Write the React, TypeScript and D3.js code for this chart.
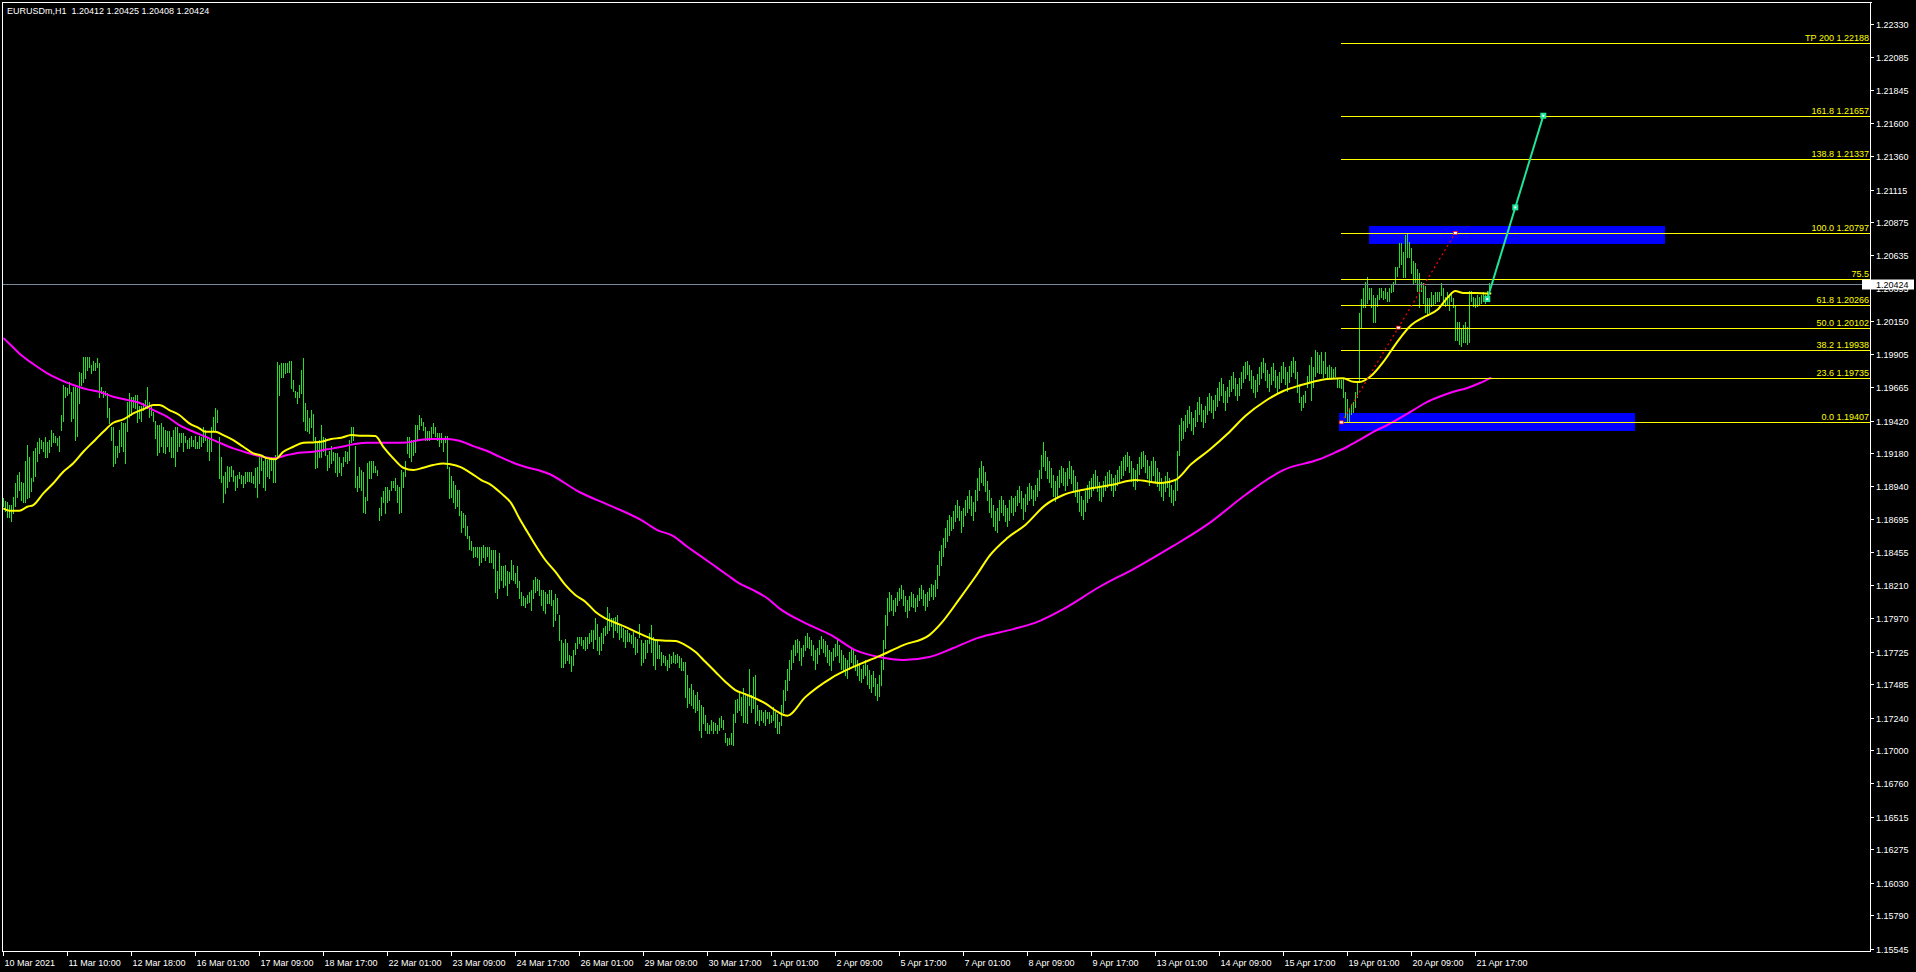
import React from "react";
import * as d3 from "d3";

const TITLE = "EURUSDm,H1  1.20412 1.20425 1.20408 1.20424";
const LAST_PRICE = 1.20424;
const LAST_PRICE_LABEL = "1.20424";

const timeLabels = [
  "10 Mar 2021", "11 Mar 10:00", "12 Mar 18:00", "16 Mar 01:00", "17 Mar 09:00", "18 Mar 17:00",
  "22 Mar 01:00", "23 Mar 09:00", "24 Mar 17:00", "26 Mar 01:00", "29 Mar 09:00", "30 Mar 17:00",
  "1 Apr 01:00", "2 Apr 09:00", "5 Apr 17:00", "7 Apr 01:00", "8 Apr 09:00", "9 Apr 17:00",
  "13 Apr 01:00", "14 Apr 09:00", "15 Apr 17:00", "19 Apr 01:00", "20 Apr 09:00", "21 Apr 17:00",
];
const BARS_PER_TIME_LABEL = 32;

const priceTicks = [
  1.2233, 1.22085, 1.21845, 1.216, 1.2136, 1.21115, 1.20875, 1.20635, 1.20395, 1.2015,
  1.19905, 1.19665, 1.1942, 1.1918, 1.1894, 1.18695, 1.18455, 1.1821, 1.1797, 1.17725,
  1.17485, 1.1724, 1.17, 1.1676, 1.16515, 1.16275, 1.1603, 1.1579, 1.15545,
];

// H1 bar highs / lows (one per hourly bar, oldest first)
const highs = [
  1.1885,1.1883,1.1882,1.1880,1.1880,1.1886,1.1896,1.1902,1.1904,1.1897,
  1.1896,1.1912,1.1924,1.1915,1.1900,1.1920,1.1922,1.1926,1.1929,1.1928,
  1.1926,1.1930,1.1926,1.1928,1.1935,1.1933,1.1931,1.1929,1.1931,1.1946,
  1.1968,1.1967,1.1966,1.1970,1.1963,1.1967,1.1967,1.1966,1.1978,1.1977,
  1.1989,1.1989,1.1989,1.1989,1.1983,1.1986,1.1984,1.1988,1.1984,1.1967,
  1.1964,1.1964,1.1962,1.1951,1.1937,1.1937,1.1923,1.1923,1.1935,1.1941,
  1.1940,1.1940,1.1956,1.1962,1.1959,1.1959,1.1961,1.1961,1.1953,1.1953,
  1.1955,1.1957,1.1967,1.1956,1.1953,1.1948,1.1942,1.1939,1.1939,1.1940,
  1.1937,1.1935,1.1934,1.1934,1.1930,1.1935,1.1937,1.1937,1.1933,1.1933,
  1.1933,1.1931,1.1928,1.1929,1.1931,1.1928,1.1931,1.1926,1.1931,1.1930,
  1.1937,1.1935,1.1930,1.1929,1.1937,1.1945,1.1951,1.1950,1.1930,1.1915,
  1.1901,1.1904,1.1909,1.1908,1.1909,1.1906,1.1901,1.1902,1.1904,1.1902,
  1.1901,1.1904,1.1904,1.1904,1.1904,1.1901,1.1907,1.1908,1.1915,
  1.1917,1.1912,1.1915,1.1913,1.1915,1.1915,1.1913,1.1917,1.1985,1.1983,
  1.1984,1.1984,1.1984,1.1984,1.1986,1.1986,1.1972,1.1964,1.1963,1.1968,
  1.1979,1.1988,1.1955,1.1950,1.1944,1.1950,1.1947,1.1930,1.1926,1.1928,
  1.1939,1.1930,1.1929,1.1917,1.1920,1.1923,1.1919,1.1918,1.1918,1.1915,
  1.1911,1.1915,1.1920,1.1919,1.1928,1.1937,1.1937,1.1923,1.1901,1.1908,
  1.1906,1.1904,1.1886,1.1911,1.1912,1.1912,1.1912,1.1909,1.1906,1.1878,
  1.1886,1.1890,1.1893,1.1893,1.1891,1.1898,1.1898,1.1900,1.1895,1.1893,
  1.1906,1.1904,1.1912,1.1930,1.1930,1.1928,1.1928,1.1939,1.1939,1.1946,
  1.1944,1.1941,1.1937,1.1934,1.1934,1.1937,1.1940,1.1937,1.1933,1.1933,
  1.1933,1.1928,1.1931,1.1931,1.1908,1.1901,1.1898,1.1895,1.1891,1.1891,
  1.1876,1.1874,1.1873,1.1865,1.1857,1.1854,1.1849,1.1849,1.1849,1.1849,
  1.1849,1.1851,1.1849,1.1849,1.1849,1.1847,1.1847,1.1847,1.1832,1.1845,
  1.1835,1.1835,1.1836,1.1832,1.1831,1.1840,1.1836,1.1830,1.1835,1.1824,
  1.1816,1.1813,1.1812,1.1814,1.1816,1.1818,1.1825,1.1827,1.1826,1.1825,
  1.1818,1.1818,1.1816,1.1815,1.1818,1.1818,1.1810,1.1815,1.1812,1.1799,
  1.1781,1.1779,1.1782,1.1779,1.1770,1.1769,1.1774,1.1779,1.1783,1.1783,
  1.1783,1.1781,1.1783,1.1783,1.1786,1.1788,1.1788,1.1797,1.1793,1.1783,
  1.1786,1.1790,1.1791,1.1805,1.1801,1.1797,1.1797,1.1798,1.1799,1.1792,
  1.1791,1.1790,1.1788,1.1788,1.1786,1.1785,1.1787,1.1783,1.1782,1.1793,
  1.1781,1.1779,1.1781,1.1781,1.1786,1.1792,1.1783,1.1782,1.1781,1.1777,
  1.1772,1.1770,1.1769,1.1766,1.1771,1.1769,1.1772,1.1770,1.1771,1.1769,
  1.1768,1.1765,1.1765,1.1755,1.1746,1.1749,1.1744,1.1741,1.1743,1.1737,
  1.1733,1.1732,1.1726,1.1720,1.1719,1.1722,1.1721,1.1720,1.1719,1.1724,
  1.1725,1.1722,1.1713,1.1709,1.1709,1.1713,1.1727,1.1737,1.1738,1.1743,
  1.1739,1.1746,1.1742,1.1741,1.1760,1.1741,1.1754,1.1755,1.1733,1.1730,
  1.1730,1.1728,1.1730,1.1728,1.1728,1.1726,1.1732,1.1728,1.1727,1.1721,
  1.1733,1.1744,1.1752,1.1760,1.1766,1.1774,1.1777,1.1781,1.1782,1.1780,
  1.1775,1.1777,1.1784,1.1786,1.1783,1.1781,1.1777,1.1774,1.1775,1.1781,
  1.1784,1.1782,1.1780,1.1777,1.1774,1.1772,1.1775,1.1778,1.1781,1.1777,
  1.1774,1.1770,1.1768,1.1766,1.1772,1.1775,1.1774,1.1770,1.1766,1.1764,
  1.1760,1.1763,1.1766,1.1763,1.1759,1.1755,1.1758,1.1753,1.1749,1.1755,
  1.1766,1.1781,1.1799,1.1812,1.1816,1.1814,1.1810,1.1812,1.1816,1.1819,
  1.1821,1.1818,1.1813,1.1810,1.1813,1.1816,1.1815,1.1812,1.1814,1.1819,
  1.1821,1.1818,1.1815,1.1816,1.1819,1.1822,1.1821,1.1825,1.1836,1.1846,
  1.1851,1.1856,1.1863,1.1869,1.1873,1.1871,1.1876,1.1880,1.1884,1.1879,
  1.1876,1.1878,1.1884,1.1887,1.1891,1.1887,1.1882,1.1891,1.1900,1.1907,
  1.1912,1.1909,1.1904,1.1898,1.1891,1.1885,1.1880,1.1876,1.1878,1.1884,
  1.1887,1.1884,1.1880,1.1878,1.1884,1.1887,1.1885,1.1887,1.1891,1.1894,
  1.1890,1.1885,1.1888,1.1893,1.1896,1.1894,1.1891,1.1895,1.1900,1.1906,
  1.1917,1.1926,1.1920,1.1915,1.1912,1.1907,1.1902,1.1898,1.1901,1.1906,
  1.1909,1.1907,1.1904,1.1907,1.1912,1.1909,1.1906,1.1901,1.1897,1.1891,
  1.1887,1.1884,1.1890,1.1895,1.1898,1.1900,1.1903,1.1906,1.1901,1.1897,
  1.1894,1.1898,1.1901,1.1904,1.1906,1.1903,1.1900,1.1902,1.1906,1.1909,
  1.1912,1.1915,1.1917,1.1919,1.1916,1.1912,1.1907,1.1906,1.1910,1.1915,
  1.1919,1.1920,1.1917,1.1913,1.1909,1.1912,1.1915,1.1912,1.1907,1.1904,
  1.1900,1.1897,1.1901,1.1904,1.1900,1.1895,1.1891,1.1898,1.1920,1.1939,
  1.1944,1.1942,1.1946,1.1950,1.1953,1.1948,1.1944,1.1950,1.1956,1.1959,
  1.1954,1.1950,1.1953,1.1959,1.1962,1.1960,1.1957,1.1961,1.1966,1.1970,
  1.1973,1.1969,1.1964,1.1967,1.1972,1.1975,1.1978,1.1973,1.1969,1.1973,
  1.1978,1.1982,1.1985,1.1986,1.1983,1.1979,1.1975,1.1972,1.1976,1.1981,
  1.1985,1.1988,1.1984,1.1979,1.1976,1.1981,1.1984,1.1979,1.1975,1.1978,
  1.1982,1.1985,1.1981,1.1978,1.1982,1.1986,1.1989,1.1986,1.1978,1.1968,
  1.1959,1.1961,1.1964,1.1975,1.1983,1.1989,1.1981,1.1994,1.1992,1.1990,
  1.1992,1.1986,1.1992,1.1981,1.1983,
  1.1981,1.1980,1.1981,1.1973,1.1972,1.1972,1.1973,1.1963,1.1958,1.1951,
  1.1954,1.1956,1.1963,1.1970,1.2021,1.2031,1.2039,1.2044,1.2047,1.2039,
  1.2039,1.2034,1.2032,1.2034,1.2039,1.2039,1.2037,1.2039,1.2036,1.2039,
  1.2042,1.2044,1.2055,1.2055,1.2072,1.2072,1.2066,1.2078,1.20797,1.2073,
  1.2069,1.2059,1.2058,1.2053,1.2050,1.2044,1.2043,1.2041,1.2032,1.2032,
  1.2036,1.2034,1.2036,1.2036,1.2036,1.2043,1.2039,1.2033,1.2036,1.2034,
  1.2036,1.2032,1.2027,1.2014,1.2014,1.2010,1.2012,1.2014,1.2011,1.2037,
  1.2037,1.2033,1.2032,1.2034,1.2033,1.2034,1.2036,1.2034,1.2037,1.2043,1.20425,
];

const lows = [
  1.1879,1.1876,1.1871,1.1871,1.1868,1.1874,1.1879,1.1886,1.1891,1.1884,
  1.1882,1.1882,1.1885,1.1886,1.1890,1.1898,1.1901,1.1912,1.1918,1.1922,
  1.1920,1.1915,1.1915,1.1919,1.1923,1.1926,1.1926,1.1924,1.1920,1.1935,
  1.1942,1.1959,1.1961,1.1962,1.1942,1.1944,1.1928,1.1931,1.1955,1.1968,
  1.1970,1.1973,1.1979,1.1981,1.1977,1.1979,1.1979,1.1981,1.1959,1.1962,
  1.1959,1.1961,1.1945,1.1940,1.1928,1.1909,1.1911,1.1915,1.1919,1.1923,
  1.1920,1.1911,1.1934,1.1945,1.1946,1.1952,1.1951,1.1941,1.1944,1.1942,
  1.1950,1.1952,1.1951,1.1945,1.1946,1.1942,1.1929,1.1917,1.1919,1.1923,
  1.1919,1.1918,1.1923,1.1920,1.1915,1.1915,1.1909,1.1920,1.1923,1.1926,
  1.1920,1.1926,1.1922,1.1922,1.1923,1.1923,1.1922,1.1922,1.1922,1.1923,
  1.1926,1.1928,1.1920,1.1913,1.1920,1.1934,1.1935,1.1941,1.1900,1.1897,
  1.1882,1.1889,1.1893,1.1898,1.1901,1.1898,1.1891,1.1893,1.1900,1.1896,
  1.1893,1.1896,1.1898,1.1898,1.1897,1.1896,1.1893,1.1886,1.1896,
  1.1906,1.1893,1.1891,1.1901,1.1900,1.1906,1.1897,1.1897,1.1915,1.1961,
  1.1974,1.1974,1.1977,1.1978,1.1978,1.1966,1.1964,1.1959,1.1955,1.1959,
  1.1962,1.1942,1.1935,1.1934,1.1933,1.1937,1.1928,1.1907,1.1908,1.1915,
  1.1915,1.1920,1.1917,1.1906,1.1908,1.1911,1.1913,1.1904,1.1901,1.1904,
  1.1902,1.1909,1.1912,1.1911,1.1913,1.1926,1.1928,1.1893,1.1890,1.1893,
  1.1891,1.1875,1.1874,1.1884,1.1900,1.1900,1.1904,1.1904,1.1902,1.1869,
  1.1873,1.1882,1.1874,1.1882,1.1884,1.1891,1.1893,1.1891,1.1882,1.1874,
  1.1875,1.1893,1.1901,1.1918,1.1915,1.1912,1.1917,1.1919,1.1928,1.1936,
  1.1939,1.1935,1.1928,1.1928,1.1928,1.1930,1.1933,1.1931,1.1928,1.1923,
  1.1926,1.1920,1.1926,1.1907,1.1885,1.1886,1.1882,1.1878,1.1879,1.1873,
  1.1860,1.1864,1.1858,1.1856,1.1848,1.1847,1.1842,1.1843,1.1842,1.1836,
  1.1838,1.1842,1.1840,1.1843,1.1838,1.1838,1.1834,1.1816,1.1812,1.1819,
  1.1825,1.1820,1.1821,1.1814,1.1823,1.1826,1.1825,1.1823,1.1820,1.1812,
  1.1807,1.1807,1.1805,1.1808,1.1809,1.1803,1.1812,1.1816,1.1818,1.1814,
  1.1807,1.1803,1.1801,1.1808,1.1808,1.1807,1.1791,1.1796,1.1801,1.1781,
  1.1761,1.1761,1.1764,1.1766,1.1764,1.1758,1.1763,1.1771,1.1775,1.1779,
  1.1777,1.1775,1.1774,1.1775,1.1779,1.1780,1.1775,1.1782,1.1774,1.1771,
  1.1774,1.1779,1.1785,1.1786,1.1788,1.1791,1.1783,1.1788,1.1787,1.1782,
  1.1783,1.1780,1.1776,1.1780,1.1780,1.1779,1.1776,1.1771,1.1772,1.1783,
  1.1763,1.1765,1.1768,1.1772,1.1779,1.1772,1.1763,1.1760,1.1768,1.1768,
  1.1763,1.1765,1.1763,1.1759,1.1761,1.1764,1.1765,1.1764,1.1765,1.1761,
  1.1759,1.1759,1.1739,1.1732,1.1735,1.1733,1.1731,1.1728,1.1730,1.1715,
  1.1710,1.1720,1.1715,1.1713,1.1713,1.1715,1.1713,1.1715,1.1713,1.1715,
  1.1717,1.1716,1.1706,1.1704,1.1705,1.1705,1.1704,1.1721,1.1728,1.1730,
  1.1726,1.1721,1.1721,1.1720,1.1733,1.1728,1.1731,1.1720,1.1722,1.1719,
  1.1722,1.1721,1.1719,1.1724,1.1720,1.1721,1.1722,1.1717,1.1713,1.1713,
  1.1719,1.1728,1.1737,1.1744,1.1752,1.1760,1.1765,1.1770,1.1772,1.1766,
  1.1763,1.1769,1.1774,1.1776,1.1775,1.1770,1.1766,1.1760,1.1764,1.1771,
  1.1775,1.1772,1.1769,1.1765,1.1763,1.1759,1.1766,1.1769,1.1770,1.1765,
  1.1760,1.1758,1.1755,1.1753,1.1760,1.1765,1.1763,1.1759,1.1755,1.1752,
  1.1750,1.1753,1.1755,1.1749,1.1746,1.1743,1.1747,1.1741,1.1737,1.1740,
  1.1748,1.1760,1.1775,1.1792,1.1802,1.1803,1.1799,1.1802,1.1807,1.1810,
  1.1812,1.1807,1.1802,1.1798,1.1803,1.1806,1.1805,1.1802,1.1806,1.1810,
  1.1812,1.1807,1.1803,1.1806,1.1810,1.1813,1.1811,1.1813,1.1819,1.1829,
  1.1836,1.1843,1.1849,1.1854,1.1858,1.1862,1.1863,1.1868,1.1871,1.1869,
  1.1860,1.1865,1.1873,1.1875,1.1878,1.1873,1.1869,1.1876,1.1884,1.1891,
  1.1897,1.1895,1.1890,1.1884,1.1875,1.1871,1.1865,1.1862,1.1860,1.1869,
  1.1875,1.1873,1.1868,1.1865,1.1869,1.1875,1.1873,1.1876,1.1880,1.1882,
  1.1878,1.1870,1.1876,1.1881,1.1884,1.1885,1.1880,1.1884,1.1887,1.1891,
  1.1900,1.1909,1.1906,1.1900,1.1897,1.1893,1.1887,1.1883,1.1887,1.1893,
  1.1897,1.1895,1.1891,1.1895,1.1900,1.1896,1.1891,1.1887,1.1882,1.1876,
  1.1873,1.1870,1.1876,1.1882,1.1885,1.1887,1.1891,1.1894,1.1890,1.1884,
  1.1883,1.1887,1.1891,1.1893,1.1895,1.1891,1.1887,1.1891,1.1895,1.1898,
  1.1900,1.1902,1.1906,1.1909,1.1904,1.1898,1.1894,1.1892,1.1898,1.1903,
  1.1907,1.1909,1.1904,1.1900,1.1895,1.1898,1.1902,1.1898,1.1894,1.1891,
  1.1887,1.1884,1.1890,1.1893,1.1887,1.1882,1.1880,1.1884,1.1891,1.1917,
  1.1928,1.1929,1.1934,1.1937,1.1940,1.1935,1.1932,1.1938,1.1942,1.1947,
  1.1942,1.1937,1.1941,1.1947,1.1950,1.1948,1.1944,1.1950,1.1953,1.1957,
  1.1961,1.1956,1.1950,1.1956,1.1960,1.1964,1.1966,1.1961,1.1957,1.1961,
  1.1966,1.1970,1.1973,1.1976,1.1972,1.1966,1.1963,1.1959,1.1964,1.1969,
  1.1973,1.1978,1.1972,1.1967,1.1964,1.1969,1.1972,1.1967,1.1963,1.1966,
  1.1970,1.1973,1.1969,1.1964,1.1970,1.1975,1.1978,1.1973,1.1963,1.1956,
  1.1950,1.1952,1.1956,1.1967,1.1970,1.1957,1.1967,1.1975,1.1978,1.1977,
  1.1977,1.1974,1.1977,1.1974,1.1974,
  1.1973,1.1974,1.1975,1.1967,1.1967,1.1966,1.1959,1.1945,1.19407,1.1942,
  1.1947,1.1948,1.1952,1.1959,1.1972,1.2011,1.2025,1.2025,1.2028,1.2031,
  1.2025,1.2014,1.2014,1.2026,1.2031,1.2033,1.2031,1.2032,1.2030,1.2030,
  1.2036,1.2037,1.2042,1.2048,1.2055,1.2057,1.2047,1.2047,1.2062,1.2062,
  1.2050,1.2043,1.2044,1.2037,1.2025,1.2037,1.2028,1.2022,1.2020,1.2022,
  1.2026,1.2027,1.2028,1.2030,1.2030,1.2034,1.2027,1.2026,1.2027,1.2023,
  1.2030,1.2025,1.2001,1.2001,1.1998,1.1997,1.2000,1.2000,1.1998,1.2000,
  1.2030,1.2026,1.2025,1.2026,1.2027,1.2028,1.2030,1.2028,1.2032,1.2036,1.20408,
];

// Moving averages sampled at [bar index, value]
const yellowMA: [number, number][] = [
  [0,1.18776],[3,1.18759],[8,1.18759],[12,1.18788],[15,1.188],[20,1.18886],[25,1.1896],[30,1.19045],
  [35,1.19107],[40,1.19191],[45,1.19265],[50,1.19338],[55,1.19404],[60,1.19429],[65,1.19473],[70,1.19503],
  [75,1.19534],[78,1.19534],[83,1.19497],[88,1.19461],[93,1.194],[98,1.19363],[101,1.19338],[106,1.19338],
  [110,1.19314],[115,1.19277],[120,1.19228],[125,1.1918],[129,1.19164],[132,1.19143],[136,1.19136],[140,1.19191],
  [145,1.19228],[150,1.19258],[155,1.1926],[159,1.19265],[164,1.19285],[169,1.19294],[174,1.19314],[179,1.19309],
  [186,1.19307],[190,1.19228],[195,1.19143],[200,1.19074],[205,1.19057],[210,1.19074],[215,1.19094],[220,1.19106],
  [223,1.19101],[229,1.19077],[234,1.19033],[239,1.18984],[244,1.18947],[249,1.18886],[254,1.18813],[258,1.18703],
  [262,1.18604],[266,1.18507],[271,1.18397],[276,1.18311],[281,1.18214],[286,1.1814],[291,1.18091],[296,1.18018],
  [301,1.17969],[306,1.17937],[311,1.17907],[316,1.17871],[321,1.17839],[326,1.1781],[331,1.17805],[336,1.17802],
  [341,1.17773],[346,1.17724],[351,1.1765],[356,1.17577],[361,1.17504],[366,1.17443],[371,1.17413],[376,1.17382],
  [381,1.17345],[387,1.17284],[392,1.17255],[401,1.17391],[414,1.17531],[426,1.17619],[438,1.17692],[450,1.17773],
  [463,1.17846],[469,1.17934],[478,1.1811],[487,1.18294],[493,1.18426],[502,1.18558],[511,1.18654],[521,1.188],
  [530,1.18874],[542,1.18918],[554,1.18947],[566,1.18984],[579,1.18962],[586,1.18984],[594,1.19101],[603,1.19204],
  [612,1.19321],[621,1.19454],[631,1.19564],[640,1.19637],[649,1.19681],[655,1.19705],[662,1.19725],[670,1.1973],
  [675,1.19705],[678,1.19703],[684,1.19749],[690,1.1985],[697,1.19998],[704,1.20121],[711,1.20184],[717,1.20233],
  [722,1.2032],[726,1.2037],[730,1.20357],[736,1.20357],[744,1.20352],
];

const magentaMA: [number, number][] = [
  [0,1.20026],[2,1.19999],[8,1.19913],[15,1.19835],[22,1.19767],[28,1.19723],[35,1.19681],[42,1.19649],
  [48,1.19632],[55,1.19595],[62,1.19571],[68,1.19551],[75,1.19497],[82,1.19448],[88,1.19387],[95,1.19338],
  [102,1.19297],[108,1.19258],[115,1.19216],[122,1.19184],[128,1.1916],[135,1.19143],[142,1.19167],[148,1.19184],
  [155,1.19191],[162,1.19209],[168,1.19224],[175,1.19246],[182,1.19258],[188,1.19258],[195,1.19258],[202,1.1926],
  [208,1.19277],[215,1.19285],[222,1.19285],[228,1.19272],[235,1.19233],[242,1.19197],[248,1.19155],[255,1.19111],
  [258,1.19094],[273,1.19028],[288,1.18896],[304,1.18793],[319,1.1869],[327,1.18617],[335,1.18573],[342,1.18494],
  [348,1.18433],[355,1.1836],[362,1.18287],[368,1.18226],[375,1.18176],[382,1.18116],[388,1.18042],[401,1.17934],
  [414,1.17846],[426,1.17736],[438,1.17685],[450,1.17663],[463,1.17685],[475,1.17751],[487,1.17824],[505,1.1789],
  [518,1.17949],[530,1.18037],[548,1.18199],[566,1.18338],[585,1.185],[603,1.18668],[621,1.18874],[640,1.19057],
  [658,1.19136],[665,1.1918],[672,1.19228],[678,1.19277],[685,1.19338],[692,1.19387],[698,1.19436],[705,1.19497],
  [712,1.19558],[718,1.19595],[725,1.19632],[732,1.19659],[738,1.19694],[744,1.19736],
];

// Fibonacci retracement / extension
const fibAnchorLow: [number, number] = [669, 1.19407];
const fibAnchorHigh: [number, number] = [726, 1.20797];
const fibLevels = [0, 23.6, 38.2, 50, 61.8, 75.5, 100, 138.8, 161.8, 200];
const fibLabels = [
  "0.0 1.19407", "23.6 1.19735", "38.2 1.19938", "50.0 1.20102", "61.8 1.20266",
  "75.5", "100.0 1.20797", "138.8 1.21337", "161.8 1.21657", "TP 200 1.22188",
];

// Blue zones: [start bar, end bar, top price, bottom price]
const zones: [number, number, number, number][] = [
  [683, 831, 1.20848, 1.20719],
  [668, 816, 1.19475, 1.19343],
];

// Projection trend line [bar, price]
const projection: [number, number][] = [
  [742, 1.20312],
  [770, 1.21657],
];

const FONT = "'Liberation Sans', Arial, sans-serif";
const W = 1916;
const H = 972;
const PLOT_LEFT = 2;
const PLOT_TOP = 2;
const PLOT_RIGHT = 1871;
const PLOT_BOTTOM = 951;

export default function App() {
  const n = highs.length;
  const x = d3.scaleLinear().domain([0, n - 1]).range([3.3, 3.3 + 2 * (n - 1)]);
  const y = d3
    .scaleLinear()
    .domain([priceTicks[priceTicks.length - 1], priceTicks[0]])
    .range([948.7, 24]);

  const lineGen = d3
    .line<[number, number]>()
    .x((d) => x(d[0]))
    .y((d) => y(d[1]))
    .curve(d3.curveMonotoneX);

  const fibPrice = (lv: number) =>
    fibAnchorLow[1] + (lv / 100) * (fibAnchorHigh[1] - fibAnchorLow[1]);
  const fibX0 = x(fibAnchorLow[0]);

  const lastY = Math.round(y(LAST_PRICE)) + 0.5;

  const redMid: [number, number] = [
    (fibAnchorLow[0] + fibAnchorHigh[0]) / 2,
    (fibAnchorLow[1] + fibAnchorHigh[1]) / 2,
  ];
  const projMid: [number, number] = [
    (projection[0][0] + projection[1][0]) / 2,
    (projection[0][1] + projection[1][1]) / 2,
  ];

  return (
    <svg
      width={W}
      height={H}
      style={{ position: "fixed", left: 0, top: 0, background: "#000", display: "block" }}
      fontFamily={FONT}
    >
      <rect x={0} y={0} width={W} height={H} fill="#000" />

      {/* zones (background) */}
      {zones.map((z, k) => (
        <rect
          key={"z" + k}
          x={Math.round(x(z[0]))}
          y={Math.round(y(z[2]))}
          width={Math.round(x(z[1]) - x(z[0]))}
          height={Math.round(y(z[3]) - y(z[2]))}
          fill="#0000ff"
        />
      ))}

      {/* bars */}
      <g shapeRendering="crispEdges">
        {highs.map((h, i) => {
          const xx = Math.round(x(i));
          const y0 = Math.round(y(h));
          const y1 = Math.round(y(lows[i]));
          return (
            <rect key={"b" + i} x={xx} y={y0} width={1} height={Math.max(1, y1 - y0 + 1)} fill="#22e022" />
          );
        })}
      </g>

      {/* moving averages */}
      <path d={lineGen(magentaMA) || ""} fill="none" stroke="#ff00ff" strokeWidth={2} />
      <path d={lineGen(yellowMA) || ""} fill="none" stroke="#ffff00" strokeWidth={2} />

      {/* current price line */}
      <line x1={PLOT_LEFT} x2={PLOT_RIGHT} y1={lastY} y2={lastY} stroke="#778899" strokeWidth={1} shapeRendering="crispEdges" />

      {/* fib levels */}
      {fibLevels.map((lv, k) => {
        const yy = Math.round(y(fibPrice(lv))) + 0.5;
        return (
          <g key={"f" + k}>
            <line x1={fibX0} x2={PLOT_RIGHT} y1={yy} y2={yy} stroke="#ffff00" strokeWidth={1} shapeRendering="crispEdges" />
            <text x={PLOT_RIGHT - 2} y={yy - 2.5} fill="#ffff00" fontSize={9} textAnchor="end">
              {fibLabels[k]}
            </text>
          </g>
        );
      })}

      {/* fib anchor line (red dotted) */}
      <line
        x1={x(fibAnchorLow[0])}
        y1={y(fibAnchorLow[1])}
        x2={x(fibAnchorHigh[0])}
        y2={y(fibAnchorHigh[1])}
        stroke="#ff0000"
        strokeWidth={1.2}
        strokeDasharray="2,3"
      />
      {[fibAnchorLow, redMid, fibAnchorHigh].map((p, k) => (
        <rect
          key={"rm" + k}
          x={x(p[0]) - 2}
          y={y(p[1]) - 1.5}
          width={4}
          height={3}
          fill="#ffffff"
          stroke="#ff0000"
          strokeWidth={0.7}
        />
      ))}

      {/* projection line */}
      <line
        x1={x(projection[0][0])}
        y1={y(projection[0][1])}
        x2={x(projection[1][0])}
        y2={y(projection[1][1])}
        stroke="#1ee69a"
        strokeWidth={2}
      />
      {[projection[0], projMid, projection[1]].map((p, k) => (
        <g key={"pm" + k}>
          <rect x={x(p[0]) - 3} y={y(p[1]) - 3} width={6} height={6} fill="#1ee69a" />
          <rect x={x(p[0]) - 1} y={y(p[1]) - 1} width={2} height={2} fill="#ffffff" />
        </g>
      ))}

      {/* frame */}
      <g stroke="#ffffff" strokeWidth={1} shapeRendering="crispEdges">
        <line x1={PLOT_LEFT + 0.5} x2={PLOT_LEFT + 0.5} y1={PLOT_TOP} y2={PLOT_BOTTOM + 1} />
        <line x1={PLOT_LEFT} x2={PLOT_RIGHT + 1} y1={PLOT_TOP + 0.5} y2={PLOT_TOP + 0.5} />
        <line x1={PLOT_RIGHT - 0.5} x2={PLOT_RIGHT - 0.5} y1={PLOT_TOP} y2={PLOT_BOTTOM + 1} />
        <line x1={PLOT_LEFT} x2={PLOT_RIGHT} y1={PLOT_BOTTOM + 0.5} y2={PLOT_BOTTOM + 0.5} />
      </g>

      {/* price axis */}
      {priceTicks.map((p, k) => {
        const yy = Math.round(y(p)) + 0.5;
        return (
          <g key={"pt" + k}>
            <line x1={PLOT_RIGHT} x2={PLOT_RIGHT + 3} y1={yy} y2={yy} stroke="#ffffff" shapeRendering="crispEdges" />
            <text x={PLOT_RIGHT + 5} y={yy + 3.3} fill="#ffffff" fontSize={9}>
              {p.toFixed(5)}
            </text>
          </g>
        );
      })}

      {/* time axis */}
      {timeLabels.map((t, k) => {
        const xx = Math.round(x(k * BARS_PER_TIME_LABEL)) + 0.5;
        return (
          <g key={"tt" + k}>
            <line x1={xx} x2={xx} y1={PLOT_BOTTOM + 1} y2={PLOT_BOTTOM + 5} stroke="#ffffff" shapeRendering="crispEdges" />
            <text x={xx + 1} y={966} fill="#ffffff" fontSize={9}>
              {t}
            </text>
          </g>
        );
      })}

      {/* last price label */}
      <rect x={1862} y={lastY - 5} width={52} height={10} fill="#ffffff" />
      <text x={PLOT_RIGHT + 5} y={lastY + 3.3} fill="#000000" fontSize={9}>
        {LAST_PRICE_LABEL}
      </text>

      {/* title */}
      <text x={7} y={14} fill="#ffffff" fontSize={9} style={{ whiteSpace: "pre" }}>
        {TITLE}
      </text>
    </svg>
  );
}
